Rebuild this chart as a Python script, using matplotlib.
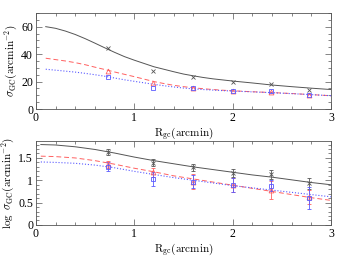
import numpy as np
import matplotlib
matplotlib.use("Agg")
import matplotlib.pyplot as plt
from matplotlib.ticker import MultipleLocator

plt.rcParams['font.family'] = ['Liberation Serif', 'DejaVu Serif']
plt.rcParams['mathtext.fontset'] = 'cm'

# radial bins (arcmin)
r_pts = [0.73, 1.19, 1.60, 2.00, 2.39, 2.78]

# top panel: surface density points
dens_all = [44.5, 27.7, 23.4, 19.7, 18.2, 13.9]
dens_red = [27.7, 19.0, 15.0, 13.4, 12.4, 10.2]
dens_blue = [23.4, 15.5, 15.0, 13.4, 13.0, 10.5]

# model curves
r_fit = [0.1, 0.2, 0.3, 0.4, 0.5, 0.6, 0.7, 0.8, 0.9, 1.0, 1.1, 1.2, 1.3, 1.4, 1.5,
         1.6, 1.7, 1.8, 1.9, 2.0, 2.2, 2.4, 2.6, 2.8, 3.0]
fit_all = [60.0, 58.8, 56.8, 54.3, 51.3, 48.0, 44.6, 41.3, 38.2, 35.6, 33.2, 30.8, 29.0,
           27.2, 25.5, 24.2, 23.0, 22.0, 21.2, 20.4, 19.0, 17.5, 16.3, 15.2, 14.2]
fit_red = [37.0, 36.0, 35.0, 33.8, 32.3, 30.5, 28.8, 27.0, 25.3, 23.6, 21.8, 20.0, 18.6,
           17.3, 16.3, 15.5, 14.8, 14.2, 13.7, 13.3, 12.6, 12.0, 11.3, 10.5, 9.7]
fit_blue = [29.0, 28.3, 27.6, 26.9, 26.0, 25.0, 23.9, 22.6, 21.3, 20.2, 19.1, 18.0, 17.0,
            16.1, 15.3, 14.7, 14.2, 13.8, 13.4, 13.1, 12.5, 11.9, 11.2, 10.5, 9.7]

# bottom panel: log density with errors
log_all = [1.63, 1.39, 1.29, 1.17, 1.13, 0.93]
err_all = [0.07, 0.08, 0.08, 0.09, 0.10, 0.12]
log_red = [1.36, 1.18, 0.97, 0.89, 0.78, 0.63]
err_red = [0.08, 0.10, 0.16, 0.16, 0.20, 0.16]
log_blue = [1.30, 1.03, 0.97, 0.89, 0.88, 0.60]
err_blue = [0.10, 0.15, 0.14, 0.16, 0.13, 0.25]

r_logfit = [0.05, 0.2, 0.4, 0.6, 0.8, 1.0, 1.2, 1.4, 1.6, 1.8, 2.0, 2.2, 2.4, 2.6, 2.8, 3.0]
logfit_all = [1.80, 1.79, 1.75, 1.69, 1.61, 1.52, 1.44, 1.37, 1.30, 1.24, 1.18, 1.12,
              1.07, 1.01, 0.95, 0.90]
logfit_red = [1.54, 1.53, 1.50, 1.44, 1.36, 1.27, 1.19, 1.10, 1.03, 0.96, 0.89, 0.82,
              0.75, 0.68, 0.61, 0.55]
logfit_blue = [1.41, 1.40, 1.38, 1.34, 1.28, 1.20, 1.13, 1.06, 1.00, 0.94, 0.88, 0.83,
               0.78, 0.73, 0.68, 0.63]

c_all = '#555555'
c_red = '#ff6060'
c_blue = '#5a5aff'

fig = plt.figure(figsize=(3.52, 2.64), dpi=100)
ax1 = fig.add_axes([0.102, 0.587, 0.838, 0.364])
ax2 = fig.add_axes([0.102, 0.148, 0.838, 0.318])

# top panel
ax1.plot(r_fit, fit_all, '-', color=c_all, lw=0.7)
ax1.plot(r_fit, fit_red, '--', color=c_red, lw=0.7, dashes=(5, 3))
ax1.plot(r_fit, fit_blue, ':', color=c_blue, lw=0.8)
ax1.plot(r_pts, dens_all, 'x', color=c_all, ms=3.5, mew=0.6)
ax1.plot(r_pts, dens_red, '^', mfc='none', mec=c_red, ms=3.5, mew=0.6)
ax1.plot(r_pts, dens_blue, 's', mfc='none', mec=c_blue, ms=3.5, mew=0.6)
ax1.set_xlim(0, 3)
ax1.set_ylim(0, 70)
ax1.yaxis.set_major_locator(MultipleLocator(20))
ax1.yaxis.set_minor_locator(MultipleLocator(5))
ax1.set_ylabel(r'$\sigma_{\rm GC}(\rm arcmin^{-2})$', fontsize=8, labelpad=1)

# bottom panel
ax2.plot(r_logfit, logfit_all, '-', color=c_all, lw=0.7)
ax2.plot(r_logfit, logfit_red, '--', color=c_red, lw=0.7, dashes=(5, 3))
ax2.plot(r_logfit, logfit_blue, ':', color=c_blue, lw=0.8)
ax2.errorbar(r_pts, log_all, yerr=err_all, fmt='x', color=c_all, ms=3, mew=0.6,
             elinewidth=0.6, capsize=1.5, capthick=0.6)
ax2.errorbar(r_pts, log_red, yerr=err_red, fmt='^', mfc='none', mec=c_red, ecolor=c_red,
             ms=3.5, mew=0.6, elinewidth=0.6, capsize=1.5, capthick=0.6)
ax2.errorbar(r_pts, log_blue, yerr=err_blue, fmt='s', mfc='none', mec=c_blue, ecolor=c_blue,
             ms=3.5, mew=0.6, elinewidth=0.6, capsize=1.5, capthick=0.6)
ax2.set_xlim(0, 3)
ax2.set_ylim(0, 1.88)
ax2.yaxis.set_major_locator(MultipleLocator(0.5))
ax2.yaxis.set_minor_locator(MultipleLocator(0.1))
ax2.set_yticks([0, 0.5, 1, 1.5])
ax2.set_yticklabels(['0', '0.5', '1', '1.5'])
ax2.set_ylabel(r'$\log\ \sigma_{\rm GC}(\rm arcmin^{-2})$', fontsize=8, labelpad=1)

for ax in (ax1, ax2):
    ax.xaxis.set_major_locator(MultipleLocator(1))
    ax.xaxis.set_minor_locator(MultipleLocator(0.2))
    ax.tick_params(which='both', direction='in', top=True, right=True, labelsize=8.5,
                   width=0.5, color='#555555', pad=2)
    ax.tick_params(which='major', length=4)
    ax.tick_params(which='minor', length=2)
    ax.set_xlabel(r'$\rm R_{gc}(arcmin)$', fontsize=8, labelpad=1)
    for s in ax.spines.values():
        s.set_linewidth(0.6)
        s.set_color('#555555')

fig.savefig('out.png', dpi=100)
